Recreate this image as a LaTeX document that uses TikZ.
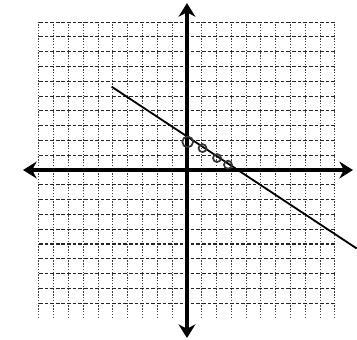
\documentclass[tikz,border=0pt]{standalone}
\usetikzlibrary{arrows.meta}

\begin{document}
\begin{tikzpicture}[x=0.37cm, y=0.37cm, >={Stealth[length=0.34cm, width=0.42cm]}]

\tikzset{
  hline/.style={draw=black!85, line width=0.75pt, dash pattern=on 2.6pt off 1.4pt},
  vline/.style={draw=black!75, line width=0.7pt, dash pattern=on 1pt off 1pt},
  axis/.style={<->, line width=3.4pt},
  graphline/.style={line width=1.3pt},
  dot/.style={circle, draw=black!80, line width=1.2pt, minimum size=0.2cm, inner sep=0pt},
  bigdot/.style={dot, minimum size=0.27cm}
}

% page frame (same margins as the scan)
\useasboundingbox (-12.635,-11.42) rectangle (11.49,11.49);

% ==========================
% Grid
% ==========================
\foreach \i in {-10,...,10}{
  \draw[vline] (\i,-10) -- (\i,10);
}
\foreach \j in {-9,...,10}{
  \draw[hline] (-10,\j) -- (10,\j);
}

% ==========================
% Axes
% ==========================
\coordinate (xl) at (-11.08,0);
\coordinate (xr) at (11.22,0);
\coordinate (yb) at (0,-11.35);
\coordinate (yt) at (0,11.28);

\draw[axis] (xl) -- (xr);
\draw[axis] (yb) -- (yt);

% ==========================
% Line and plotted points
% ==========================
\coordinate (la) at (-5.09,5.63);
\coordinate (lb) at (11.47,-5.30);
\draw[graphline] (la) -- (lb);

\node[bigdot] (p0) at (0.05,1.9) {};
\node[dot] (p1) at (1.05,1.48) {};
\node[dot] (p2) at (2.03,0.81) {};
\node[dot] (p3) at (2.77,0.36) {};

\end{tikzpicture}
\end{document}
